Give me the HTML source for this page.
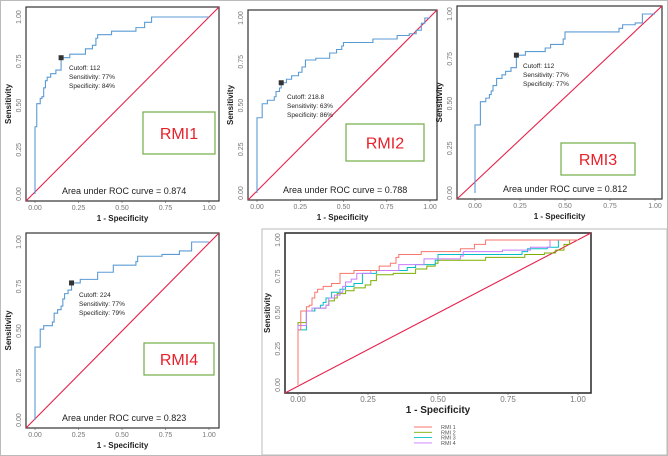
<!DOCTYPE html>
<html><head><meta charset="utf-8"><style>
html,body{margin:0;padding:0;background:#fff;}
svg{display:block;font-family:"Liberation Sans",sans-serif;}
</style></head><body>
<svg id="fig" width="668" height="456" viewBox="0 0 668 456">
<rect x="0.5" y="0.5" width="667" height="455" fill="#fff" stroke="#bbb"/>
<rect x="262" y="229" width="405" height="226" fill="none" stroke="#bbb"/>
</svg>
<script>
const ticks = [0, 0.25, 0.5, 0.75, 1];
const tickLabels = ["0.00", "0.25", "0.50", "0.75", "1.00"];
const rmi1Fpr = [0,0.01,0.03,0.04,0.05,0.06,0.07,0.09,0.12,0.15,0.2,0.29,0.33,0.35,0.36,0.44,0.58,0.63,0.67,1];
const rmi1Tpr = [0.38,0.51,0.54,0.55,0.6,0.64,0.66,0.68,0.7,0.77,0.79,0.82,0.84,0.88,0.9,0.92,0.94,0.97,1,1];
const rmi2Fpr = [0,0.03,0.06,0.1,0.11,0.13,0.14,0.17,0.2,0.24,0.26,0.28,0.34,0.42,0.46,0.49,0.5,0.67,0.81,0.88,0.92,0.95,0.97,1];
const rmi2Tpr = [0.43,0.51,0.53,0.55,0.58,0.6,0.63,0.65,0.67,0.69,0.72,0.76,0.77,0.8,0.82,0.84,0.86,0.88,0.9,0.91,0.93,0.97,1,1];
const rmi3Fpr = [0,0.03,0.06,0.08,0.09,0.1,0.12,0.15,0.17,0.2,0.23,0.28,0.39,0.42,0.49,0.5,0.8,0.82,0.89,0.93,1];
const rmi3Tpr = [0.38,0.51,0.53,0.55,0.57,0.6,0.64,0.66,0.68,0.7,0.77,0.79,0.81,0.83,0.86,0.9,0.92,0.94,0.95,1,1];
const rmi4Fpr = [0,0.03,0.05,0.1,0.11,0.13,0.15,0.16,0.17,0.19,0.21,0.26,0.36,0.45,0.58,0.59,0.73,0.83,0.9,1];
const rmi4Tpr = [0.41,0.51,0.53,0.55,0.6,0.62,0.64,0.68,0.71,0.73,0.77,0.79,0.83,0.87,0.89,0.92,0.93,0.95,1,1];
const cutoffs = ["112","218.8","112","224"];
const sens = ["77%","63%","77%","77%"];
const spec = ["84%","86%","77%","79%"];
const markFpr = [0.15,0.14,0.23,0.21];
const markTpr = [0.77,0.63,0.77,0.77];
const aucs = ["0.874","0.788","0.812","0.823"];
const names = ["RMI1","RMI2","RMI3","RMI4"];
const legendNames = ["RMI 1","RMI 2","RMI 3","RMI 4"];
const colors = ["#f8766d","#7cae00","#00bfc4","#c77cff"];

const svg = document.getElementById('fig');
const NS = 'http://www.w3.org/2000/svg';
function mk(tag, attrs, parent){
  const e = document.createElementNS(NS, tag);
  for (const k in attrs) e.setAttribute(k, attrs[k]);
  (parent||svg).appendChild(e); return e;
}
function stepPath(fx, fy, X, Y){
  let d = 'M'+X(0)+','+Y(0);
  for (let i=0;i<fx.length;i++){ d += ' H'+X(fx[i])+' V'+Y(fy[i]); }
  return d;
}
const allFpr=[rmi1Fpr,rmi2Fpr,rmi3Fpr,rmi4Fpr];
const allTpr=[rmi1Tpr,rmi2Tpr,rmi3Tpr,rmi4Tpr];

function axes(g, p, cond){
  const X = v => p.x0 + v*(p.x1-p.x0), Y = v => p.y0 - v*(p.y0-p.y1);
  const box = mk('rect',{x:p.bx,y:p.by,width:p.bw,height:p.bh,fill:'none',stroke:'#333','stroke-width':cond?1.6:1.2},g);
  
  
  ticks.forEach((t,i)=>{
    const xt = mk('text',{x:X(t),y:p.by+p.bh+9,'font-size':cond?8:7,fill:'#777','text-anchor':'middle'},g);
    xt.textContent = tickLabels[i];
    
    
    mk('line',{x1:X(t),x2:X(t),y1:p.by+p.bh,y2:p.by+p.bh+2,stroke:'#555','stroke-width':0.6},g);
    const yt = mk('text',{x:0,y:0,'font-size':7,fill:'#777','text-anchor':'middle',transform:'translate('+(p.bx-5)+','+Y(t)+') rotate(-90)'},g);
    yt.textContent = tickLabels[i];
    
    
  });
  const xl = mk('text',{x:(p.bx+p.bw/2),y:p.by+p.bh+20,'font-size':cond?10:8,'font-weight':'bold',fill:'#222','text-anchor':'middle'},g);
  xl.textContent='1 - Specificity';
  
  
  const yl = mk('text',{x:0,y:0,'font-size':8,'font-weight':'bold',fill:'#222','text-anchor':'middle',transform:'translate('+(p.bx-15)+','+(p.by+p.bh/2)+') rotate(-90)'},g);
  yl.textContent='Sensitivity';
  
  
  const dg = mk('line',{x1:p.bx,y1:p.by+p.bh,x2:p.bx+p.bw,y2:p.by,stroke:'#e8204a','stroke-width':1.1},g);
  
  
  return {X,Y};
}

const panels = [
  {bx:26,by:7,bw:193,bh:194,x0:35,x1:209,y0:194,y1:17, lab:[143,112,72,42], tx:69,ty:70, ax:62},
  {bx:248,by:10,bw:189,bh:190,x0:257,x1:430,y0:193,y1:18, lab:[346,124,78,37], tx:287,ty:99, ax:283},
  {bx:457,by:6,bw:205,bh:193,x0:475,x1:655,y0:193,y1:14, lab:[561,143,74,32], tx:523,ty:68, ax:503},
  {bx:26,by:233,bw:193,bh:195,x0:35,x1:209,y0:420,y1:242, lab:[144,343,70,32], tx:79,ty:297, ax:62}
];
panels.forEach((p,k)=>{
  const g = mk('g',{});
  
  
  const {X,Y} = axes(g,p,false);
  const c = mk('path',{d:stepPath(allFpr[k],allTpr[k],X,Y),fill:'none',stroke:'#5b9bd5','stroke-width':1.1},g);
  
  
  const m = mk('rect',{x:X(markFpr[k])-2.5,y:Y(markTpr[k])-2.5,width:5,height:5,fill:'#333'},g);
  
  
  [['Cutoff: '+cutoffs[k]],['Sensitivity: '+sens[k]],['Specificity: '+spec[k]]].forEach((s,i)=>{
    const t = mk('text',{x:p.tx,y:p.ty+i*9,'font-size':6.5,fill:'#222'},g);
    t.textContent = s[0];
    
    
  });
  const a = mk('text',{x:p.ax,y:p.by+p.bh-7,'font-size':9,fill:'#222'},g);
  a.textContent = 'Area under ROC curve =  '+aucs[k];
  
  
  const b = mk('rect',{x:p.lab[0],y:p.lab[1],width:p.lab[2],height:p.lab[3],fill:'#fff',stroke:'#70ad47','stroke-width':1.2},g);
  
  
  const bt = mk('text',{x:p.lab[0]+p.lab[2]/2,y:p.lab[1]+p.lab[3]/2+6,'font-size':16,fill:'#e8202a','text-anchor':'middle'},g);
  bt.textContent = names[k];
  
  
});

const cp = {bx:285,by:233,bw:306,bh:160,x0:298,x1:578,y0:385,y1:240};
const cg = mk('g',{});


const ax5 = axes(cg,cp,true);
[1,2,3,0].forEach(k=>{
  const c = mk('path',{d:stepPath(allFpr[k],allTpr[k],ax5.X,ax5.Y),fill:'none',stroke:colors[k],'stroke-width':1},cg);
  
  
});
legendNames.forEach((n,i)=>{
  const y = 427+i*5.3;
  const l = mk('line',{x1:414,x2:432,y1:y,y2:y,stroke:colors[i],'stroke-width':0.9},cg);
  
  
  const t = mk('text',{x:441,y:y+2,'font-size':5.5,fill:'#555'},cg);
  t.textContent = n;
  
  
});
</script>
</body></html>
